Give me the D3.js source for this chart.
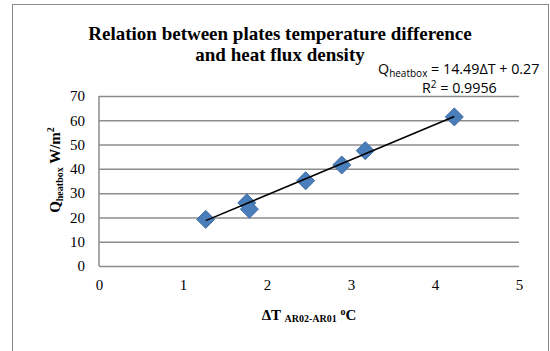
<!DOCTYPE html>
<html>
<head>
<meta charset="utf-8">
<script src="https://cdn.jsdelivr.net/npm/d3@7"></script>
<style>
  html, body { margin: 0; padding: 0; background: #fff; }
  svg { display: block; }
</style>
</head>
<body>
<div id="chart"></div>
<script>
// measured points: plate temperature difference (°C) vs heat flux density (W/m²)
const deltaT = [1.27, 1.76, 1.79, 2.46, 2.89, 3.17, 4.23];
const qHeatbox = [19.2, 26.0, 23.4, 35.1, 41.6, 47.5, 61.4];

// linear trend line printed on the chart
const trendSlope = 14.49;
const trendIntercept = 0.27;
const rSquared = '0.9956';

const xTicks = [0, 1, 2, 3, 4, 5];
const yTicks = [0, 10, 20, 30, 40, 50, 60, 70];

const width = 550;
const height = 351;
const plot = { left: 99, right: 519, top: 96, bottom: 266 };

const serif = '"Liberation Serif", "Times New Roman", serif';
const sans = '"Open Sans", "Liberation Sans", sans-serif';

const svg = d3.select('#chart')
  .append('svg')
  .attr('width', width)
  .attr('height', height);

// chart frame
svg.append('rect')
  .attr('x', 12.5)
  .attr('y', 4.5)
  .attr('width', 536)
  .attr('height', 400)
  .attr('fill', '#fff')
  .attr('stroke', '#8a8a8a')
  .attr('stroke-width', 1);

const x = d3.scaleLinear().domain([0, 5]).range([plot.left, plot.right]);
const y = d3.scaleLinear().domain([0, 70]).range([plot.bottom, plot.top]);

// horizontal gridlines
svg.append('g')
  .attr('class', 'grid')
  .attr('transform', `translate(${plot.left},0)`)
  .call(d3.axisLeft(y).tickValues(yTicks).tickSize(-(plot.right - plot.left)).tickFormat(''))
  .call(g => g.select('.domain').remove())
  .call(g => g.selectAll('line').attr('stroke', '#8c8c8c').attr('stroke-width', 1.5));

// left axis line
svg.append('line')
  .attr('x1', plot.left).attr('x2', plot.left)
  .attr('y1', plot.top).attr('y2', plot.bottom)
  .attr('stroke', '#8c8c8c').attr('stroke-width', 1.5);

// y tick labels
svg.append('g')
  .attr('transform', `translate(${plot.left},0)`)
  .call(d3.axisLeft(y).tickValues(yTicks).tickSize(0).tickPadding(14).tickFormat(d3.format('d')))
  .call(g => g.select('.domain').remove())
  .call(g => g.selectAll('text')
    .attr('fill', '#000')
    .style('font-family', serif)
    .style('font-size', '15px'));

// x tick labels
svg.append('g')
  .attr('transform', `translate(0,${plot.bottom})`)
  .call(d3.axisBottom(x).tickValues(xTicks).tickSize(0).tickPadding(13).tickFormat(d3.format('d')))
  .call(g => g.select('.domain').remove())
  .call(g => g.selectAll('text')
    .attr('fill', '#000')
    .style('font-family', serif)
    .style('font-size', '15px'));

// diamond markers
const points = deltaT.map((d, i) => ({ x: d, y: qHeatbox[i] }));
svg.append('g')
  .selectAll('path')
  .data(points)
  .enter()
  .append('path')
  .attr('transform', d => `translate(${x(d.x)},${y(d.y)})`)
  .attr('d', 'M0,-9L9,0L0,9L-9,0Z')
  .attr('fill', '#4a7ebb')
  .attr('stroke', '#3d6ca6')
  .attr('stroke-width', 1);

// trend line draws over the markers
const xMin = d3.min(deltaT);
const xMax = d3.max(deltaT);
svg.append('line')
  .attr('x1', x(xMin)).attr('y1', y(trendSlope * xMin + trendIntercept))
  .attr('x2', x(xMax)).attr('y2', y(trendSlope * xMax + trendIntercept))
  .attr('stroke', '#000')
  .attr('stroke-width', 1.5);

// title
const title = svg.append('text')
  .attr('text-anchor', 'middle')
  .style('font-family', serif)
  .style('font-size', '19px')
  .style('font-weight', 'bold')
  .attr('fill', '#000');
title.append('tspan').attr('x', 280).attr('y', 40)
  .text('Relation between plates temperature difference');
title.append('tspan').attr('x', 280).attr('y', 61)
  .text('and heat flux density');

// trend equation
const eq = svg.append('text')
  .attr('x', 378).attr('y', 74)
  .style('font-family', sans)
  .style('font-size', '14.3px')
  .attr('fill', '#000');
eq.append('tspan').text('Q');
eq.append('tspan').attr('dy', 3).style('font-size', '10px').text('heatbox');
eq.append('tspan').attr('dy', -3).text(` = ${trendSlope}\u0394T + ${trendIntercept}`);

const r2 = svg.append('text')
  .attr('x', 422).attr('y', 93)
  .style('font-family', sans)
  .style('font-size', '14.3px')
  .attr('fill', '#000');
r2.append('tspan').text('R');
r2.append('tspan').attr('dy', -5).style('font-size', '10px').text('2');
r2.append('tspan').attr('dy', 5).text(` = ${rSquared}`);

// x axis title
const xt = svg.append('text')
  .attr('x', 309).attr('y', 320)
  .attr('text-anchor', 'middle')
  .style('font-family', serif)
  .style('font-weight', 'bold')
  .style('font-size', '15px')
  .attr('fill', '#000');
xt.append('tspan').text('\u0394T ');
xt.append('tspan').attr('dy', 2).style('font-size', '10px').text('AR02-AR01');
xt.append('tspan').attr('dy', -2).text(' ');
xt.append('tspan').attr('dy', -5).style('font-size', '10px').text('o');
xt.append('tspan').attr('dy', 5).text('C');

// y axis title
const yt = svg.append('text')
  .attr('transform', 'translate(60,170) rotate(-90)')
  .attr('text-anchor', 'middle')
  .style('font-family', serif)
  .style('font-weight', 'bold')
  .style('font-size', '15px')
  .attr('fill', '#000');
yt.append('tspan').text('Q');
yt.append('tspan').attr('dy', 3).style('font-size', '10px').text('heatbox');
yt.append('tspan').attr('dy', -3).text(' W/m');
yt.append('tspan').attr('dy', -6).style('font-size', '10px').text('2');
</script>
</body>
</html>
